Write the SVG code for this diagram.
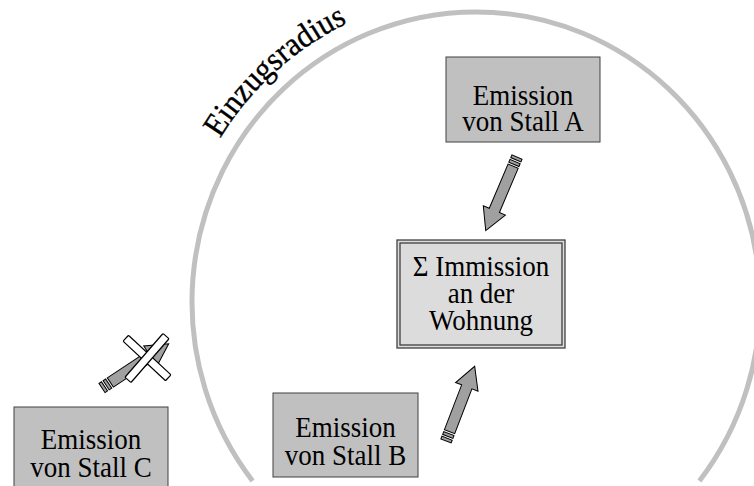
<svg xmlns="http://www.w3.org/2000/svg" xmlns:xlink="http://www.w3.org/1999/xlink" width="754" height="486" viewBox="0 0 754 486">
<style>
.box{fill:#c0c0c0;stroke:#404040;stroke-width:1}
.t{font-family:"Liberation Serif","Times New Roman",serif;font-size:30px;fill:#000;text-anchor:middle}
.arr{fill:#a0a0a0;stroke:#000;stroke-width:1;stroke-linejoin:miter}
.xbar{fill:#fff;stroke:#000;stroke-width:1.2}
</style>
<defs>
<g id="arrow">
<rect class="arr" x="0" y="-5.5" width="3" height="11"/>
<rect class="arr" x="5" y="-5.5" width="3" height="11"/>
<polygon class="arr" points="10,-5.5 58,-5.5 58,-12 80,0 58,12 58,5.5 10,5.5"/>
</g>
<path id="radPath" d="M 174 302 A 302 308 0 0 1 476 -6"/>
</defs>
<rect width="754" height="486" fill="#fff"/>
<g id="radius">
<path d="M 252.6 481 A 284 290 0 1 1 699.4 481" fill="none" stroke="#c0c0c0" stroke-width="5"/>
<text font-family="Liberation Serif,Times New Roman,serif" font-size="33" fill="#000" stroke="#000" stroke-width="0.4"><textPath xlink:href="#radPath" startOffset="172" textLength="174" lengthAdjust="spacingAndGlyphs">Einzugsradius</textPath></text>
</g>
<g id="connectors">
<use xlink:href="#arrow" transform="translate(517,157) rotate(113)"/>
<use xlink:href="#arrow" transform="translate(446,441) rotate(-69)"/>
<use xlink:href="#arrow" transform="translate(102,388) rotate(-33.5)"/>
<g id="cross">
<rect class="xbar" x="118" y="354" width="58" height="8" rx="1" transform="rotate(43 147 358)"/>
<rect class="xbar" x="118" y="354" width="58" height="8" rx="1" transform="rotate(-49 147 358)"/>
</g>
</g>
<g id="stallA">
<rect class="box" x="446" y="57" width="154" height="85"/>
<text class="t" transform="translate(523,0) scale(0.9,1)" y="105">Emission</text>
<text class="t" transform="translate(523,0) scale(0.9,1)" y="131">von Stall A</text>
</g>
<g id="immission">
<rect x="397" y="240" width="168" height="108" fill="#dcdcdc" stroke="#404040" stroke-width="1.3"/>
<rect x="400" y="243" width="162" height="102" fill="none" stroke="#404040" stroke-width="1.3"/>
<text class="t" transform="translate(481,0) scale(0.9,1)" y="276">Σ Immission</text>
<text class="t" transform="translate(481,0) scale(0.9,1)" y="303">an der</text>
<text class="t" transform="translate(481,0) scale(0.9,1)" y="330">Wohnung</text>
</g>
<g id="stallB">
<rect class="box" x="273" y="393" width="145" height="84"/>
<text class="t" transform="translate(345.5,0) scale(0.9,1)" y="437">Emission</text>
<text class="t" transform="translate(345.5,0) scale(0.9,1)" y="465">von Stall B</text>
</g>
<g id="stallC">
<rect class="box" x="14" y="407" width="154" height="90"/>
<text class="t" transform="translate(91,0) scale(0.9,1)" y="449">Emission</text>
<text class="t" transform="translate(91,0) scale(0.9,1)" y="477">von Stall C</text>
</g>
</svg>
